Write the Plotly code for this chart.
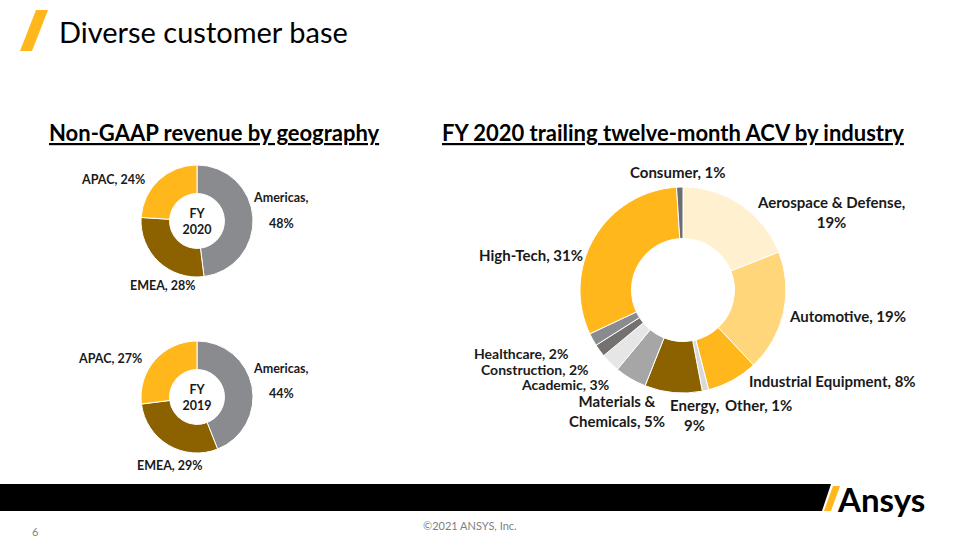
import plotly.graph_objects as go

# Geography split (Non-GAAP revenue)
geo_labels = ["Americas", "EMEA", "APAC"]
geo_fy2020 = [48, 28, 24]
geo_fy2019 = [44, 29, 27]
geo_colors = ["#8A8B8E", "#8C6100", "#FFB71B"]

# Industry split (FY 2020 trailing twelve-month ACV)
industry_labels = [
    "Aerospace & Defense", "Automotive", "Industrial Equipment", "Other",
    "Energy", "Materials & Chemicals", "Academic", "Construction",
    "Healthcare", "High-Tech", "Consumer",
]
industry_values = [19, 19, 8, 1, 9, 5, 3, 2, 2, 31, 1]
industry_colors = [
    "#FFF0CF", "#FFD67A", "#FFB71B", "#D9D9D9", "#8C6100", "#A6A6A6",
    "#E7E6E6", "#767171", "#8A8B8E", "#FFB71B", "#6D6E71",
]

W, H = 960, 540
FONT = "Lato"
TXT = "#1A1A1A"
LBL = 15
GEO_LBL = 12.5


def px(x, y):
    return x / W, 1 - y / H


def domain(cx, cy, r):
    return dict(x=[(cx - r) / W, (cx + r) / W], y=[1 - (cy + r) / H, 1 - (cy - r) / H])


def donut(values, labels, colors, dom, hole, center=None):
    return go.Pie(
        values=values, labels=labels, sort=False, direction="clockwise", rotation=0,
        hole=hole, domain=dom, textinfo="none", hoverinfo="label+percent",
        marker=dict(colors=colors, line=dict(color="white", width=1)),
        showlegend=False,
        title=dict(text=center, position="middle center",
                   font=dict(family=FONT, size=GEO_LBL, color=TXT, weight="bold")) if center else None,
    )


def label(text, x, y, size=LBL, anchor="center", color=TXT, bold=True):
    ax, ay = px(x, y)
    return dict(text=text, x=ax, y=ay, xref="paper", yref="paper", showarrow=False,
                xanchor=anchor, yanchor="middle",
                font=dict(family=FONT, size=size, color=color, weight="bold" if bold else "normal"))


def path(points):
    pts = [px(x, y) for x, y in points]
    return "M " + " L ".join(f"{a:.5f},{b:.5f}" for a, b in pts) + " Z"


fig = go.Figure()
fig.add_trace(donut(geo_fy2020, geo_labels, geo_colors, domain(197, 221, 56), 0.49, "FY<br>2020"))
fig.add_trace(donut(geo_fy2019, geo_labels, geo_colors, domain(197, 397, 56), 0.49, "FY<br>2019"))
fig.add_trace(donut(industry_values, industry_labels, industry_colors, domain(683, 290, 103), 0.5))

annotations = [
    label("Diverse customer base", 57, 32, size=29, anchor="left", color="#000000", bold=False),
    label("<u>Non-GAAP revenue by geography</u>", 47, 132, size=22, anchor="left", color="#000000"),
    label("<u>FY 2020 trailing twelve-month ACV by industry</u>", 440, 132, size=22, anchor="left",
          color="#000000"),
    label("©2021 ANSYS, Inc.", 470, 525, size=11, color="#7F7F7F", bold=False),
    label("6", 35, 531, size=11, color="#7F7F7F", bold=False),
    label("Ansys", 835, 499, size=33, anchor="left", color="#000000"),
]

# geography labels: (x, y) of "name," and of value, per year
geo_pos = {
    "FY2020": {"Americas": [(281, 197), (281, 223)], "EMEA": [(163, 285)], "APAC": [(113, 180)]},
    "FY2019": {"Americas": [(281, 368), (281, 393)], "EMEA": [(170, 465)], "APAC": [(110, 358)]},
}
for year, values in (("FY2020", geo_fy2020), ("FY2019", geo_fy2019)):
    for name, val in zip(geo_labels, values):
        pos = geo_pos[year][name]
        if len(pos) == 2:
            annotations.append(label(f"{name},", *pos[0], size=GEO_LBL))
            annotations.append(label(f"{val}%", *pos[1], size=GEO_LBL))
        else:
            annotations.append(label(f"{name}, {val}%", *pos[0], size=GEO_LBL))

industry_pos = {
    "Aerospace & Defense": (831, 212),
    "Automotive": (847, 316),
    "Industrial Equipment": (832, 381),
    "Other": (758, 405),
    "Energy": (694, 415),
    "Materials & Chemicals": (617, 411),
    "Academic": (565, 385),
    "Construction": (535, 369),
    "Healthcare": (521, 353),
    "High-Tech": (531, 255),
    "Consumer": (678, 172),
}
industry_wrap = {
    "Aerospace & Defense": "Aerospace & Defense,<br>{v}%",
    "Energy": "Energy,<br>{v}%",
    "Materials & Chemicals": "Materials &<br>Chemicals, {v}%",
}
stacked = {"Academic", "Construction", "Healthcare"}  # tightly stacked labels
for name, val in zip(industry_labels, industry_values):
    text = industry_wrap.get(name, name + ", {v}%").format(v=val)
    annotations.append(label(text, *industry_pos[name], size=14 if name in stacked else LBL))

shapes = [
    dict(type="path", xref="paper", yref="paper", line=dict(width=0), fillcolor="#FFB71B",
         path=path([(20, 51), (36, 10), (48, 10), (32, 51)])),
    dict(type="path", xref="paper", yref="paper", line=dict(width=0), fillcolor="#000000",
         path=path([(0, 484), (831, 484), (822, 511), (0, 511)])),
    dict(type="path", xref="paper", yref="paper", line=dict(width=0), fillcolor="#FFB71B",
         path=path([(833, 486), (840, 486), (831, 511), (824, 511)])),
]

fig.update_layout(
    width=W, height=H, margin=dict(l=0, r=0, t=0, b=0),
    paper_bgcolor="white", plot_bgcolor="white",
    annotations=annotations, shapes=shapes,
    font=dict(family=FONT, color=TXT),
)

# the page's default body margin would push the figure off its 960x540 window
fig.write_html("out.html", config={"displayModeBar": False},
               post_script="document.body.style.margin = '0';")
